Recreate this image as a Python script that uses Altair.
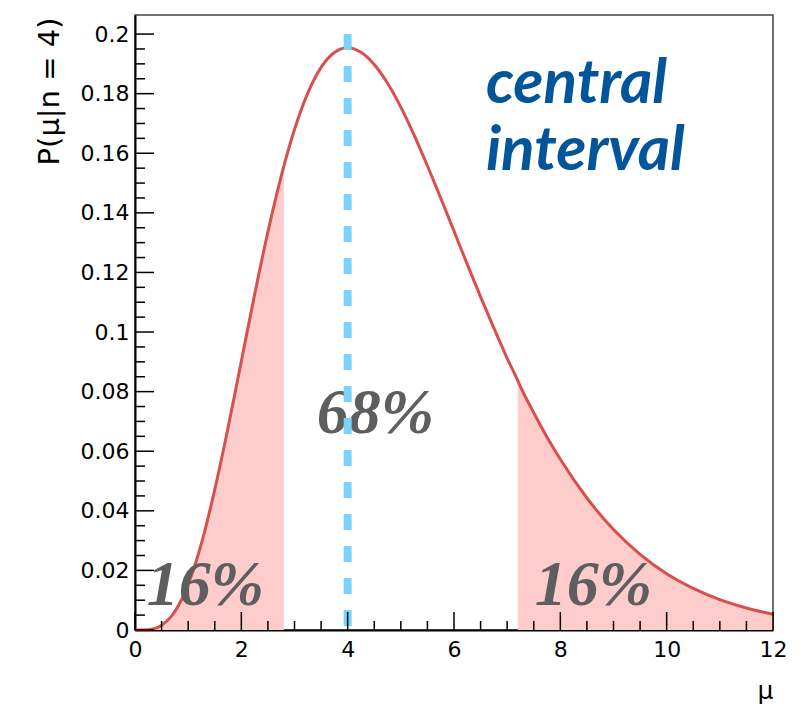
import altair as alt
import pandas as pd
import numpy as np

# ---- data ----
mu = [0, 0.25, 0.5, 0.75, 1, 1.25, 1.5, 1.75, 2, 2.25, 2.5, 2.75, 2.8, 3, 3.25, 3.5, 3.75,
      4, 4.25, 4.5, 4.75, 5, 5.25, 5.5, 5.75, 6, 6.25, 6.5, 6.75, 7, 7.2, 7.25, 7.5, 7.75,
      8, 8.5, 9, 9.5, 10, 10.5, 11, 11.5, 12]
prob = [0.0, 0.0001, 0.0016, 0.0062, 0.0153, 0.0291, 0.0471, 0.0679, 0.0902, 0.1126, 0.1336,
        0.1523, 0.1557, 0.1680, 0.1802, 0.1888, 0.1938, 0.1954, 0.1939, 0.1898, 0.1835, 0.1755,
        0.1661, 0.1558, 0.1450, 0.1339, 0.1227, 0.1118, 0.1013, 0.0912, 0.0837, 0.0817, 0.0729,
        0.0647, 0.0573, 0.0443, 0.0337, 0.0254, 0.0189, 0.0140, 0.0102, 0.0074, 0.0053]
lower_edge = 2.8
upper_edge = 7.2
mode_mu = 4
x_major = [0, 2, 4, 6, 8, 10, 12]
y_major = [0, 0.02, 0.04, 0.06, 0.08, 0.1, 0.12, 0.14, 0.16, 0.18, 0.2]
x_minor = [round(v, 2) for v in np.arange(0, 12.01, 0.5) if round(v, 2) not in x_major]
y_minor = [round(v, 3) for v in np.arange(0, 0.2001, 0.005) if round(v, 3) not in y_major]

df = pd.DataFrame({"mu": mu, "p": prob})
one = pd.DataFrame({"k": [0]})
xtick_major_df = pd.DataFrame({"mu": x_major})
xtick_minor_df = pd.DataFrame({"mu": x_minor})
ytick_major_df = pd.DataFrame({"p": y_major})
ytick_minor_df = pd.DataFrame({"p": y_minor})

W, H = 638, 615
xs = alt.Scale(domain=[0, 12], nice=False, zero=False)
ys = alt.Scale(domain=[0, 0.2064], nice=False)

AXFONT = "DejaVu Sans"
xax = alt.Axis(values=x_major, format="~g", ticks=False, grid=False, domain=True,
               domainColor="black", domainWidth=2, labelFont=AXFONT,
               labelFontSize=22, labelColor="black", labelPadding=9, labelFlush=False,
               title="μ", titleFont=AXFONT, titleFontSize=25,
               titleFontWeight="normal", titleColor="black", titleX=W, titleY=68,
               titleAlign="right", titleBaseline="alphabetic")
yax = alt.Axis(values=y_major, format="~g", ticks=False, grid=False, domain=True,
               domainColor="black", domainWidth=2, labelFont=AXFONT,
               labelFontSize=22, labelColor="black", labelPadding=6, labelFlush=False,
               title="P(μ|n = 4)", titleFont=AXFONT, titleFontSize=29,
               titleFontWeight="normal", titleColor="black", titleAngle=270,
               titleAlign="right", titleBaseline="middle", titleX=-86, titleY=2)

X = alt.X("mu:Q", scale=xs, axis=xax)
Y = alt.Y("p:Q", scale=ys, axis=yax)

base = alt.Chart(df)

left_area = base.transform_filter(alt.datum.mu <= lower_edge).mark_area(
    color="#ffcccc", interpolate="monotone").encode(x=X, y=Y)
right_area = base.transform_filter(alt.datum.mu >= upper_edge).mark_area(
    color="#ffcccc", interpolate="monotone").encode(x=X, y=Y)
curve = base.mark_line(color="#d6504c", strokeWidth=3, interpolate="monotone").encode(x=X, y=Y)

def serif_text(txt, xv, yv):
    return alt.Chart(one).mark_text(
        text=txt, font="Liberation Serif", fontSize=64, fontStyle="italic",
        fontWeight="bold", color="#5e5e5e", align="left", baseline="alphabetic"
    ).encode(x=alt.datum(xv), y=alt.datum(yv))

t68 = serif_text("68%", 3.42, 0.0661)
t16a = serif_text("16%", 0.22, 0.0084)
t16b = serif_text("16%", 7.52, 0.0084)

dash = alt.Chart(one).mark_rule(color="#7ad3f8", strokeWidth=8, strokeDash=[16, 16]).encode(
    x=alt.datum(mode_mu), y=alt.datum(0.2), y2=alt.datum(0))

def blue_text(txt, xv, yv):
    return alt.Chart(one).mark_text(
        text=txt, font="Lato", fontSize=62, fontStyle="italic", fontWeight="bold",
        color="#02559a", align="left", baseline="alphabetic"
    ).encode(x=alt.datum(xv), y=alt.datum(yv))

c1 = blue_text("central", 6.6, 0.1769)
c2 = blue_text("interval", 6.6, 0.1545)

xt_major = alt.Chart(xtick_major_df).mark_rule(color="black", strokeWidth=1.5).encode(
    x=alt.X("mu:Q", scale=xs), y=alt.value(H), y2=alt.value(H - 18))
xt_minor = alt.Chart(xtick_minor_df).mark_rule(color="black", strokeWidth=1.5).encode(
    x=alt.X("mu:Q", scale=xs), y=alt.value(H), y2=alt.value(H - 9))
yt_major = alt.Chart(ytick_major_df).mark_rule(color="black", strokeWidth=1.5).encode(
    y=alt.Y("p:Q", scale=ys), x=alt.value(0), x2=alt.value(19))
yt_minor = alt.Chart(ytick_minor_df).mark_rule(color="black", strokeWidth=1.5).encode(
    y=alt.Y("p:Q", scale=ys), x=alt.value(0), x2=alt.value(10))

chart = alt.layer(
    left_area, right_area, curve, t68, t16a, t16b, dash, c1, c2,
    xt_major, xt_minor, yt_major, yt_minor
).properties(
    width=W, height=H,
    padding={"left": 135, "top": 15, "right": 810 - 135 - W, "bottom": 707 - 15 - H},
    autosize=alt.AutoSizeParams(type="none"),
    background="white",
).configure_view(stroke="#444444", strokeWidth=1.5)

chart.save("out.html", embed_options={"renderer": "svg", "actions": False})
